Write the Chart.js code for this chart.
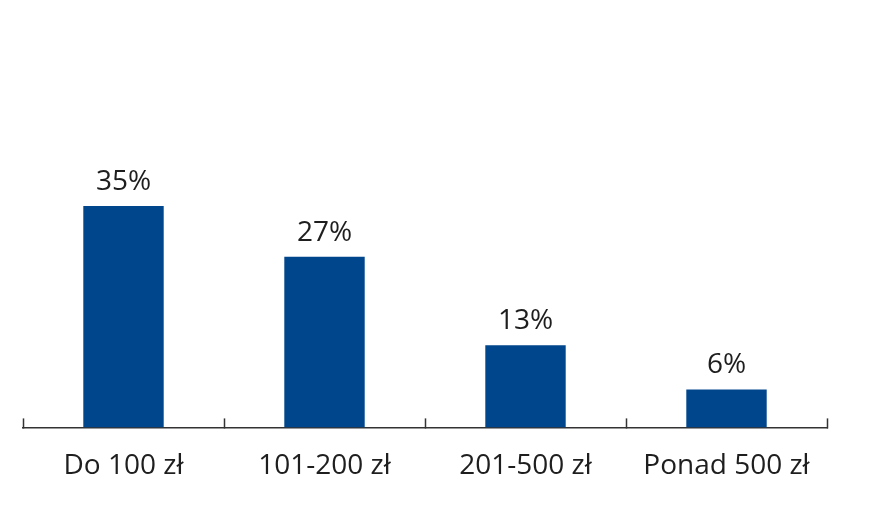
<!DOCTYPE html>
<html>
<head>
<meta charset="utf-8">
<script src="https://cdn.jsdelivr.net/npm/chart.js@4"></script>
<style>
  html, body { margin: 0; padding: 0; background: #fff; }
  #wrap { width: 874px; height: 517px; }
</style>
</head>
<body>
<div id="wrap"><canvas id="chart"></canvas></div>
<script>
const categories = ['Do 100 zł', '101-200 zł', '201-500 zł', 'Ponad 500 zł']
const shares = [35, 27, 13, 6]

const barColor = '#00468c'
const textColor = '#1e1e1e'
const fontFamily = '"Open Sans", sans-serif'

// etykiety z wartościami nad słupkami
const valueLabels = {
  id: 'valueLabels',
  afterDatasetsDraw(chart) {
    const ctx = chart.ctx
    const meta = chart.getDatasetMeta(0)
    ctx.save()
    ctx.font = '28px ' + fontFamily
    ctx.fillStyle = textColor
    ctx.textAlign = 'center'
    ctx.textBaseline = 'alphabetic'
    meta.data.forEach((bar, i) => {
      ctx.fillText(shares[i] + '%', bar.x, bar.y - 16)
    })
    ctx.restore()
  }
}

new Chart(document.getElementById('chart'), {
  type: 'bar',
  data: {
    labels: categories,
    datasets: [{
      data: shares,
      backgroundColor: barColor,
      categoryPercentage: 1,
      barPercentage: 0.4
    }]
  },
  options: {
    responsive: true,
    maintainAspectRatio: false,
    animation: false,
    layout: { padding: { top: 48, left: 23, right: 47, bottom: 3 } },
    plugins: {
      legend: { display: false },
      tooltip: { enabled: false }
    },
    scales: {
      x: {
        grid: {
          drawOnChartArea: false,
          drawTicks: true,
          tickLength: -9,
          tickColor: '#333',
          tickWidth: 1.5
        },
        border: { display: true, color: '#333', width: 1.5 },
        ticks: {
          color: textColor,
          padding: 31,
          font: { family: fontFamily, size: 28 }
        }
      },
      y: {
        display: false,
        min: 0,
        max: 60
      }
    }
  },
  plugins: [valueLabels]
})
</script>
</body>
</html>
